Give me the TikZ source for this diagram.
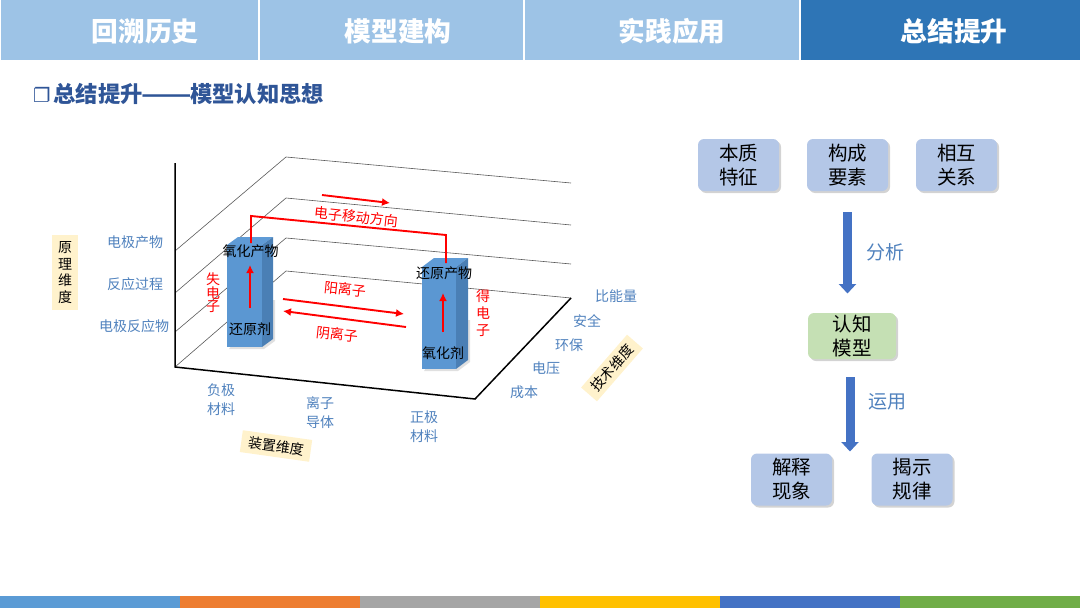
\documentclass[tikz,border=0pt]{standalone}
\usepackage{fontspec}
\setmainfont{Noto Sans CJK SC}
\newfontfamily\symfont{DejaVu Sans}
\usepackage{xcolor}
\usepackage{tikz}
\usetikzlibrary{arrows.meta,shadows}
\definecolor{tabblue}{HTML}{9DC3E6}
\definecolor{tabdark}{HTML}{2E75B6}
\definecolor{headblue}{HTML}{2F5597}
\definecolor{lblblue}{HTML}{4F81BD}
\definecolor{creamy}{HTML}{FFF2CC}
\definecolor{boxblue}{HTML}{B4C7E7}
\definecolor{boxgreen}{HTML}{C5E0B4}
\definecolor{arrblue}{HTML}{4472C4}
\definecolor{colfront}{HTML}{5B97D2}
\definecolor{coltop}{HTML}{5F9BD6}
\definecolor{colside}{HTML}{4A7FB5}
\definecolor{strip1}{HTML}{5B9BD5}
\definecolor{strip2}{HTML}{ED7D31}
\definecolor{strip3}{HTML}{A5A5A5}
\definecolor{strip4}{HTML}{FFC000}
\definecolor{strip6}{HTML}{70AD47}
\begin{document}
\begin{tikzpicture}[
  x=1pt, y=-1pt,
  tabtxt/.style={font=\fontsize{26.7}{30}\selectfont\bfseries, text=white, inner sep=0pt},
  axislbl/.style={font=\fontsize{14}{19}\selectfont, text=lblblue, align=center, inner sep=0pt},
  redlbl/.style={font=\fontsize{14}{16}\selectfont, text=red, align=center, inner sep=0pt},
  chem/.style={font=\fontsize{14}{16}\selectfont, text=black, inner sep=0pt},
  dimbox/.style={fill=creamy, font=\fontsize{14}{16.7}\selectfont, align=center, inner sep=0pt},
  stepbox/.style={fill=boxblue, rounded corners=6pt, minimum width=81pt, minimum height=52pt,
    align=center, inner sep=0pt, font=\fontsize{19.5}{24}\selectfont,
    drop shadow={shadow xshift=2pt, shadow yshift=-2pt, opacity=0.35}},
  level/.style={draw=black!65, line width=0.6pt},
  axisline/.style={draw=black, line width=1.5pt},
  redline/.style={draw=red, line width=1.9pt},
  redarr/.style={draw=red, line width=1.9pt, -{Latex[length=8pt,width=8pt]}},
  bigarr/.style={draw=arrblue, line width=9pt, -{Triangle[length=9.5pt,width=17pt]}}
]
\useasboundingbox (0,0) rectangle (1080,608);

\fill[tabblue] (1,0) rectangle (258,60);
\fill[tabblue] (260,0) rectangle (523,60);
\fill[tabblue] (525,0) rectangle (798.5,60);
\fill[tabdark] (801,0) rectangle (1080,60);
\node[tabtxt] (tab1) at (145,31) {回溯历史};
\node[tabtxt] (tab2) at (398,31) {模型建构};
\node[tabtxt] (tab3) at (672,31) {实践应用};
\node[tabtxt] (tab4) at (954,31) {总结提升};

\node[anchor=west, inner sep=0pt, text=headblue, font=\fontsize{22.3}{24}\selectfont\bfseries] (head) at (33,94) {{\symfont\fontsize{19.5}{24}\selectfont ❐}\hspace{3pt}总结提升\hspace{-1pt}\scalebox{1.32}[1]{——}\hspace{-2pt}模型认知思想};

\fill[strip1] (0,596) rectangle (180,608);
\fill[strip2] (180,596) rectangle (360,608);
\fill[strip3] (360,596) rectangle (540,608);
\fill[strip4] (540,596) rectangle (720,608);
\fill[arrblue] (720,596) rectangle (900,608);
\fill[strip6] (900,596) rectangle (1080,608);

\coordinate (org) at (175,367);
\coordinate (ztop) at (175,163);
\coordinate (xend) at (475,399);
\coordinate (yend) at (571,298);
\coordinate (back) at (286,271);

\draw[level] (175,251) -- (286,157) -- (571,183);
\draw[level] (175,293) -- (286,198) -- (571,225);
\draw[level] (175,332) -- (286,238) -- (571,264);
\draw[level] (org) -- (back) -- (yend);
\draw[axisline] (ztop) -- (org) -- (xend) -- (yend);

\fill[black!12] (229,349) -- (264,349) -- (275,341) -- (275,300) -- (264,300) -- cycle;
\fill[colfront] (227,245) rectangle (262,347);
\fill[coltop] (227,245) -- (238,237) -- (273,237) -- (262,245) -- cycle;
\fill[colside] (262,245) -- (273,237) -- (273,339) -- (262,347) -- cycle;

\fill[black!12] (424,371) -- (458,371) -- (470,362) -- (470,320) -- (458,320) -- cycle;
\fill[colfront] (422,267) rectangle (456,369);
\fill[coltop] (422,267) -- (434,258) -- (468,258) -- (456,267) -- cycle;
\fill[colside] (456,267) -- (468,258) -- (468,360) -- (456,369) -- cycle;

\coordinate (efrom) at (251,243);
\coordinate (eto) at (446,263);
\draw[redline] (efrom) -- (251,216) -- (446,235) -- (eto);
\coordinate (edirs) at (322,195);
\coordinate (edire) at (390,203);
\draw[redarr] (edirs) -- (edire);
\coordinate (up1s) at (250,308);
\coordinate (up1e) at (250,265);
\draw[redarr] (up1s) -- (up1e);
\coordinate (up2s) at (443,332);
\coordinate (up2e) at (443,293);
\draw[redarr] (up2s) -- (up2e);
\coordinate (cats) at (283,299);
\coordinate (cate) at (404,314);
\draw[redarr] (cats) -- (cate);
\coordinate (anis) at (406,327);
\coordinate (anie) at (283,311);
\draw[redarr] (anis) -- (anie);

\node[chem] (oxprod) at (250.5,251) {氧化产物};
\node[chem] (redag) at (250,329) {还原剂};
\node[chem] (redprod) at (444,273) {还原产物};
\node[chem] (oxag) at (443,353) {氧化剂};

\node[redlbl, rotate=-6] (edirl) at (356,217) {电子移动方向};
\node[redlbl, rotate=-6] (catl) at (345,289) {阳离子};
\node[redlbl, rotate=-6] (anil) at (337,334) {阴离子};
\node[redlbl, font=\fontsize{14}{13.4}\selectfont] (lose) at (213,293) {失\\电\\子};
\node[redlbl, font=\fontsize{14}{16.7}\selectfont] (gain) at (483,313) {得\\电\\子};

\node[axislbl] (zl3) at (135,242) {电极产物};
\node[axislbl] (zl2) at (135,284) {反应过程};
\node[axislbl] (zl1) at (134,326) {电极反应物};
\node[axislbl] (xl1) at (221,400) {负极\\材料};
\node[axislbl] (xl2) at (320,413) {离子\\导体};
\node[axislbl] (xl3) at (424,427) {正极\\材料};
\node[axislbl] (yl1) at (524,392) {成本};
\node[axislbl] (yl2) at (546,368) {电压};
\node[axislbl] (yl3) at (569,345) {环保};
\node[axislbl] (yl4) at (587,321) {安全};
\node[axislbl] (yl5) at (616,296) {比能量};

\node[dimbox, minimum width=26pt, minimum height=75pt] (zdim) at (65,272.5) {原\\理\\维\\度};
\node[dimbox, minimum width=70pt, minimum height=22pt, rotate=-8] (xdim) at (276,446) {装置维度};
\node[dimbox, minimum width=70pt, minimum height=21pt, rotate=49] (ydim) at (612,368) {技术维度};

\node[stepbox] (essence) at (738.5,165) {本质\\特征};
\node[stepbox] (parts) at (847.5,165) {构成\\要素};
\node[stepbox] (relate) at (956.5,165) {相互\\关系};
\node[stepbox, fill=boxgreen, minimum width=88pt, minimum height=46pt] (model) at (852,336) {认知\\模型};
\node[stepbox] (explain) at (791.5,479.5) {解释\\现象};
\node[stepbox] (reveal) at (912,479.5) {揭示\\规律};

\coordinate (a1s) at (847.5,212);
\coordinate (a1e) at (847.5,293.5);
\draw[bigarr] (a1s) -- (a1e);
\coordinate (a2s) at (850,377);
\coordinate (a2e) at (850,451.5);
\draw[bigarr] (a2s) -- (a2e);
\node[axislbl, font=\fontsize{19}{22}\selectfont] (analyse) at (885,252) {分析};
\node[axislbl, font=\fontsize{19}{22}\selectfont] (apply) at (887,402) {运用};
\end{tikzpicture}
\end{document}
